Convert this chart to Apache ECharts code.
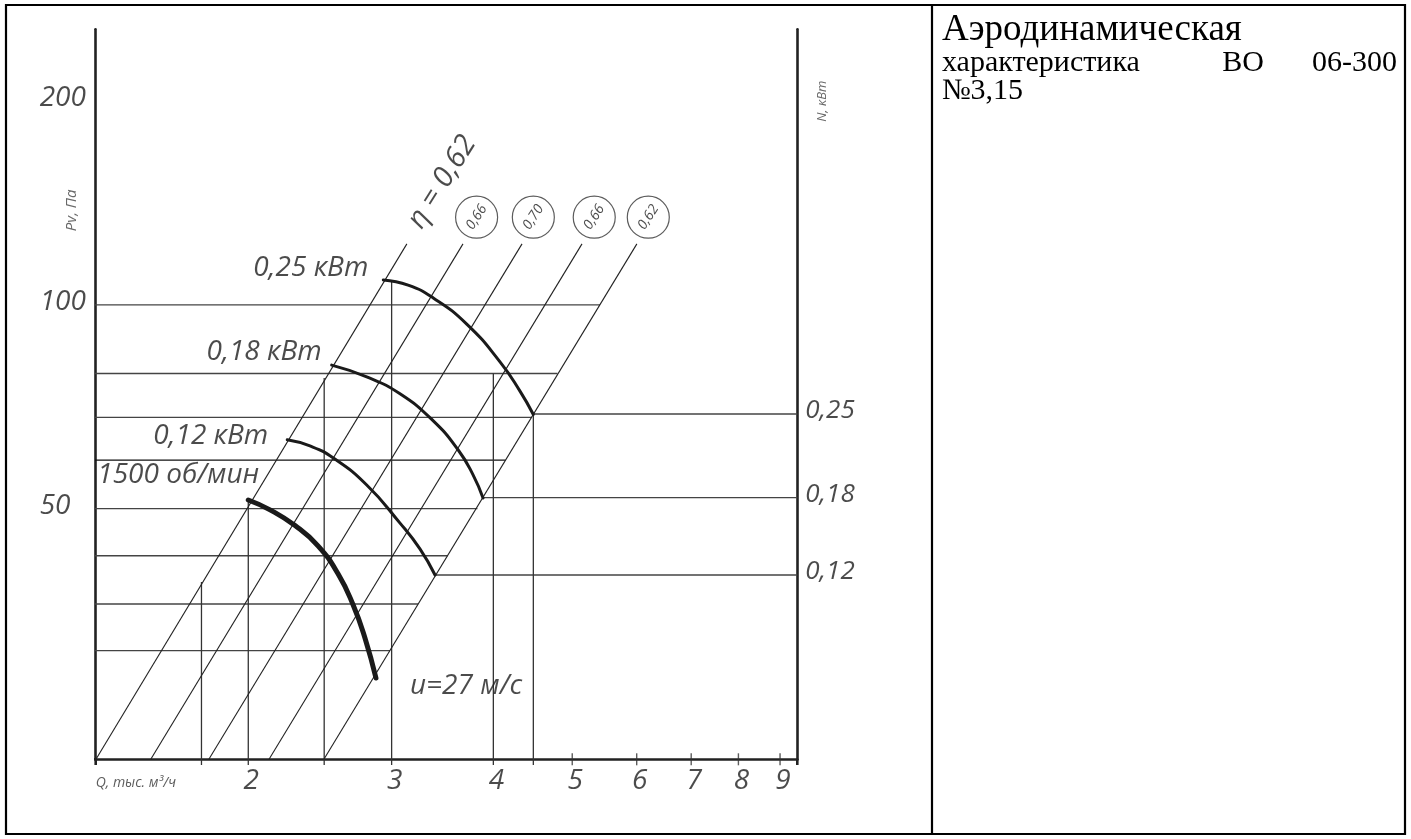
<!DOCTYPE html>
<html><head><meta charset="utf-8">
<script src="https://cdn.jsdelivr.net/npm/echarts@6/dist/echarts.min.js"></script>
<style>html,body{margin:0;padding:0;background:#fff}#c{width:1411px;height:839px}</style>
</head><body><div id="c"></div>
<script>
// ---- axis ranges (Q, тыс. м3/ч ; Pv, Па) ----
const Q_MIN = 1.299, Q_MAX = 9.45, P_MIN = 21.31, P_MAX = 255.5;
const Q_LEFT_EXT = 1.278, P_BOTTOM_EXT = 20.9;
// ---- tick labels ----
const xTickValues = [2, 3, 4, 5, 6, 7, 8, 9];
const xTickLabels = ['2', '3', '4', '5', '6', '7', '8', '9'];
const yTickValues = [200, 100, 50];
const yTickLabels = ['200', '100', '50'];
// ---- horizontal grid lines (P) and where they stop (Q) ----
const hGridP = [100, 79.2, 68.2, 59.0, 50, 42.6, 36.15, 30.84];
const hGridQEnd = [5.409, 4.796, 4.462, 4.140, 3.824, 3.514, 3.234, 2.987];
// ---- power lines to right axis ----
const powerP = [69.0, 51.9, 39.9];
const powerQStart = [4.479, 3.885, 3.391];
const powerLabels = ['0,25', '0,18', '0,12'];
// ---- vertical grid lines ----
const vGridQ = [1.752, 2, 2.479, 3, 4, 4.479];
const vGridPTop = [38.96, 51.5, 78.0, 108.2, 79.2, 69.0];
// ---- efficiency lines ----
const etaQBottom = [1.300, 1.518, 1.789, 2.121, 2.477];
const etaQTop = [3.132, 3.671, 4.338, 5.140, 6.003];
const etaPBottom = 21.31, etaPTop = 123.1;
const etaCircleQ = [3.815, 4.479, 5.321, 6.200];
const etaCircleP = 134.8;
const etaCircleLabels = ['0,66', '0,70', '0,66', '0,62'];
const etaMainLabelAt = [3.459, 151.9];
// ---- characteristic curves ----
const curve1500 = [[2.0, 51.5], [2.127, 49.8], [2.283, 47.2], [2.436, 44.06], [2.578, 40.06], [2.690, 36.06], [2.782, 32.2], [2.870, 28.1]];
const curve012 = [[2.233, 63.2], [2.381, 61.9], [2.544, 59.4], [2.796, 54.2], [3.072, 47.6], [3.250, 43.6], [3.392, 39.9]];
const curve018 = [[2.532, 81.5], [2.796, 78.3], [3.072, 73.9], [3.375, 67.4], [3.620, 61.1], [3.777, 56.1], [3.885, 51.85]];
const curve025 = [[2.930, 108.9], [3.143, 107.0], [3.375, 102.4], [3.710, 93.7], [4.076, 82.4], [4.313, 74.6], [4.479, 68.9]];

const FONT = 'Open Sans';
const INK = '#1e1e1e';
const series = [];
function seg(data, w, color, z) {
  series.push({ type: 'line', data: data, symbol: 'none', clip: false, silent: true, z: z || 2,
    lineStyle: { width: w, color: color || '#333' } });
}
hGridP.forEach((p, i) => seg([[Q_LEFT_EXT, p], [hGridQEnd[i], p]], 1.3, i === 3 ? '#111' : '#444'));
powerP.forEach((p, i) => seg([[powerQStart[i], p], [Q_MAX, p]], 1.3, '#444'));
vGridQ.forEach((q, i) => seg([[q, P_BOTTOM_EXT], [q, vGridPTop[i]]], 1.3, '#333'));
etaQBottom.forEach((q, i) => seg([[q, etaPBottom], [etaQTop[i], etaPTop]], 1.1, '#222'));
seg([[Q_LEFT_EXT, P_MIN], [Q_MIN, P_MIN]], 2.6, '#222', 3);
seg([[Q_MIN, P_BOTTOM_EXT], [Q_MIN, P_MIN]], 2.6, '#222', 3);
seg([[Q_MAX, P_BOTTOM_EXT], [Q_MAX, P_MIN]], 2.6, '#222', 3);
[[curve1500, 5], [curve012, 3], [curve018, 3], [curve025, 3]].forEach(c => {
  series.push({ type: 'line', data: c[0], smooth: 0.5, symbol: 'none', clip: false, silent: true, z: 5,
    lineStyle: { width: c[1], color: '#1a1a1a', cap: 'round' } });
});
// ticks on Q axis
series.push({ type: 'scatter', data: xTickValues.filter(v => v >= 5).map(v => [v, P_MIN]), symbol: 'rect',
  symbolSize: [1.4, 12], itemStyle: { color: '#333' }, clip: false, silent: true, z: 4 });
// circles with efficiency values
series.push({ type: 'scatter', data: etaCircleQ.map((q, i) => ({ value: [q, etaCircleP], name: etaCircleLabels[i] })),
  symbol: 'circle', symbolSize: 42, clip: false, silent: true, z: 6,
  itemStyle: { color: '#fff', borderColor: '#333', borderWidth: 1.2 },
  label: { show: true, position: 'inside', formatter: '{b}', rotate: 57, fontFamily: FONT, fontStyle: 'italic',
    fontSize: 14, color: INK } });

// text annotations
function lab(value, text, o) {
  return { value: value, name: text, label: Object.assign({ show: true, position: 'inside', formatter: '{b}',
    fontFamily: FONT, fontStyle: 'italic', fontSize: 28, color: INK }, o) };
}
const ann = [];
xTickValues.forEach((v, i) => ann.push(lab([v, P_MIN], xTickLabels[i], { offset: [3, 22] })));
yTickValues.forEach((v, i) => ann.push(lab([Q_MIN, v], yTickLabels[i], { align: 'left', offset: [-56, -3] })));
powerP.forEach((p, i) => ann.push(lab([Q_MAX, p], powerLabels[i], { align: 'left', offset: [8, -3], fontSize: 26 })));
ann.push(lab(curve025[0], '0,25 кВт', { align: 'right', offset: [-15, -12] }));
ann.push(lab(curve018[0], '0,18 кВт', { align: 'right', offset: [-10, -13] }));
ann.push(lab(curve012[0], '0,12 кВт', { align: 'right', offset: [-19, -4] }));
ann.push(lab(curve1500[0], '1500 об/мин', { align: 'left', offset: [-151, -25] }));
ann.push(lab(curve1500[curve1500.length - 1], 'u=27 м/с', { align: 'left', offset: [34, 8] }));
ann.push(lab(etaMainLabelAt, 'η = 0,62', { rotate: 58, fontSize: 29 }));
ann.push(lab([Q_MIN, 138], 'Pv, Па', { offset: [0, -24], rotate: 90, fontSize: 15, color: '#444' }));
ann.push(lab([Q_MAX, 200], 'N, кВт', { offset: [0, 25], rotate: 90, fontSize: 13, color: '#444' }));
ann.push(lab([Q_MIN, P_MIN], 'Q, тыс. м³/ч', { align: 'left', offset: [0, 24], fontSize: 14, color: '#333' }));
series.push({ type: 'scatter', data: ann, symbolSize: 0, clip: false, silent: true, z: 7 });

const axisLine = { show: true, lineStyle: { color: '#222', width: 2.6 } };
const chart = echarts.init(document.getElementById('c'), null, { renderer: 'canvas' });
chart.setOption({
  animation: false,
  backgroundColor: '#fff',
  grid: { left: 95.7, right: 1411 - 797.3, top: 29.3, bottom: 839 - 759.3 },
  xAxis: { type: 'log', logBase: 10, min: Q_MIN, max: Q_MAX, axisLine: axisLine, axisTick: { show: false },
    axisLabel: { show: false }, splitLine: { show: false }, minorTick: { show: false } },
  yAxis: [
    { type: 'log', logBase: 10, min: P_MIN, max: P_MAX, position: 'left', axisLine: axisLine, axisTick: { show: false },
      axisLabel: { show: false }, splitLine: { show: false } },
    { type: 'log', logBase: 10, min: P_MIN, max: P_MAX, position: 'right', axisLine: axisLine, axisTick: { show: false },
      axisLabel: { show: false }, splitLine: { show: false } }
  ],
  series: series,
  graphic: [
    { type: 'rect', shape: { x: 6, y: 5, width: 1399, height: 829 }, style: { fill: 'none', stroke: '#000', lineWidth: 2.2 }, z: 10 },
    { type: 'line', shape: { x1: 932, y1: 5, x2: 932, y2: 834 }, style: { stroke: '#000', lineWidth: 2.2 }, z: 10 },
    { type: 'text', x: 942, y: 30, style: { text: 'Аэродинамическая', font: '37px "Liberation Serif"', fill: '#000', verticalAlign: 'middle' } },
    { type: 'text', x: 942, y: 63, style: { text: 'характеристика', font: '30px "Liberation Serif"', fill: '#000', verticalAlign: 'middle' } },
    { type: 'text', x: 1243, y: 63, style: { text: 'ВО', font: '30px "Liberation Serif"', fill: '#000', verticalAlign: 'middle', align: 'center' } },
    { type: 'text', x: 1397, y: 63, style: { text: '06-300', font: '30px "Liberation Serif"', fill: '#000', verticalAlign: 'middle', align: 'right' } },
    { type: 'text', x: 942, y: 91, style: { text: '№3,15', font: '30px "Liberation Serif"', fill: '#000', verticalAlign: 'middle' } }
  ]
});
</script></body></html>
